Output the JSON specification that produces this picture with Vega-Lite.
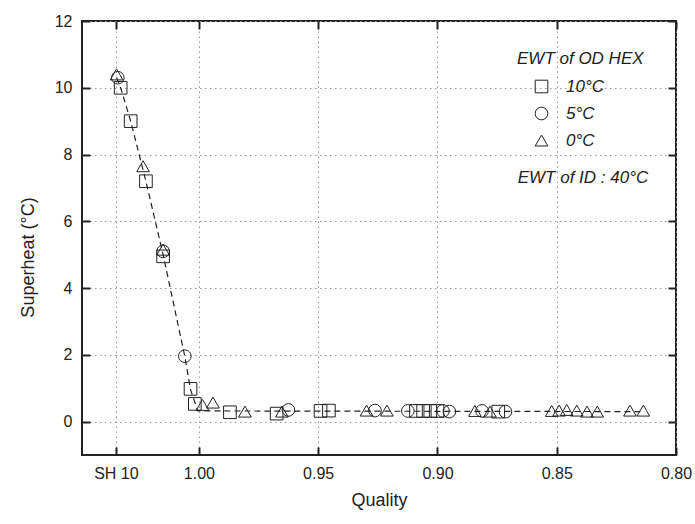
{
  "$schema": "https://vega.github.io/schema/vega-lite/v6.json",
  "width": 594,
  "height": 434,
  "autosize": {"type": "none"},
  "padding": {"left": 82, "top": 21, "right": 19, "bottom": 69},
  "background": "white",
  "config": {
    "view": {"stroke": "#222", "strokeWidth": 2},
    "font": "Liberation Sans",
    "axis": {
      "labelFont": "Liberation Sans", "labelFontSize": 16, "labelColor": "#222",
      "titleFont": "Liberation Sans", "titleFontSize": 18, "titleFontWeight": "normal", "titleColor": "#222",
      "domain": false, "tickColor": "#222", "tickWidth": 2, "tickSize": -8,
      "gridColor": "#999", "gridDash": [1.5, 3.5], "gridWidth": 1
    }
  },
  "datasets": {
    "fit": [
      {"x": 1.0345, "y": 10.3},
      {"x": 1.0328, "y": 10.0},
      {"x": 1.0286, "y": 9.0},
      {"x": 1.0222, "y": 7.2},
      {"x": 1.0150, "y": 5.0},
      {"x": 1.0059, "y": 1.95},
      {"x": 1.0035, "y": 0.96},
      {"x": 1.0005, "y": 0.32},
      {"x": 0.814, "y": 0.30}
    ],
    "pts": [
      {"ewt": "10°C", "x": 1.0328, "y": 10.0},
      {"ewt": "10°C", "x": 1.0286, "y": 9.0},
      {"ewt": "10°C", "x": 1.0222, "y": 7.2},
      {"ewt": "10°C", "x": 1.0150, "y": 4.95},
      {"ewt": "10°C", "x": 1.0035, "y": 0.98},
      {"ewt": "10°C", "x": 1.0017, "y": 0.53},
      {"ewt": "10°C", "x": 0.9870, "y": 0.28},
      {"ewt": "10°C", "x": 0.9674, "y": 0.24},
      {"ewt": "10°C", "x": 0.9490, "y": 0.32},
      {"ewt": "10°C", "x": 0.9455, "y": 0.33},
      {"ewt": "10°C", "x": 0.9090, "y": 0.32},
      {"ewt": "10°C", "x": 0.9060, "y": 0.32},
      {"ewt": "10°C", "x": 0.9030, "y": 0.32},
      {"ewt": "10°C", "x": 0.9000, "y": 0.32},
      {"ewt": "10°C", "x": 0.8745, "y": 0.30},
      {"ewt": "5°C", "x": 1.0340, "y": 10.3},
      {"ewt": "5°C", "x": 1.0150, "y": 5.1},
      {"ewt": "5°C", "x": 1.0059, "y": 1.96},
      {"ewt": "5°C", "x": 0.9625, "y": 0.35},
      {"ewt": "5°C", "x": 0.9262, "y": 0.33},
      {"ewt": "5°C", "x": 0.9124, "y": 0.32},
      {"ewt": "5°C", "x": 0.8977, "y": 0.32},
      {"ewt": "5°C", "x": 0.8950, "y": 0.30},
      {"ewt": "5°C", "x": 0.8813, "y": 0.32},
      {"ewt": "5°C", "x": 0.8715, "y": 0.30},
      {"ewt": "0°C", "x": 1.0345, "y": 10.4},
      {"ewt": "0°C", "x": 1.0234, "y": 7.65},
      {"ewt": "0°C", "x": 1.0150, "y": 5.15},
      {"ewt": "0°C", "x": 0.9985, "y": 0.50},
      {"ewt": "0°C", "x": 0.9941, "y": 0.57},
      {"ewt": "0°C", "x": 0.9807, "y": 0.30},
      {"ewt": "0°C", "x": 0.9652, "y": 0.30},
      {"ewt": "0°C", "x": 0.9297, "y": 0.33},
      {"ewt": "0°C", "x": 0.9212, "y": 0.33},
      {"ewt": "0°C", "x": 0.8843, "y": 0.32},
      {"ewt": "0°C", "x": 0.8780, "y": 0.30},
      {"ewt": "0°C", "x": 0.8521, "y": 0.32},
      {"ewt": "0°C", "x": 0.8490, "y": 0.33},
      {"ewt": "0°C", "x": 0.8458, "y": 0.35},
      {"ewt": "0°C", "x": 0.8416, "y": 0.33},
      {"ewt": "0°C", "x": 0.8373, "y": 0.30},
      {"ewt": "0°C", "x": 0.8330, "y": 0.30},
      {"ewt": "0°C", "x": 0.8193, "y": 0.33},
      {"ewt": "0°C", "x": 0.8137, "y": 0.33}
    ],
    "note": [
      {"label": "EWT of ID : 40°C", "x": 0.839, "y": 7.3}
    ]
  },
  "layer": [
    {
      "data": {"name": "fit"},
      "mark": {"type": "line", "color": "#222", "strokeDash": [6, 4], "strokeWidth": 1.2},
      "encoding": {
        "x": {
          "field": "x", "type": "quantitative",
          "scale": {"domain": [0.8, 1.049], "reverse": true, "nice": false, "zero": false},
          "axis": {
            "orient": "bottom", "title": "Quality", "titlePadding": 10,
            "values": [1.0348, 1.0, 0.95, 0.9, 0.85, 0.8],
            "labelExpr": "datum.value > 1.01 ? 'SH 10' : format(datum.value, '.2f')",
            "labelPadding": 18, "grid": true, "labelFlush": false
          }
        },
        "y": {
          "field": "y", "type": "quantitative",
          "scale": {"domain": [-1, 12], "nice": false, "zero": false},
          "axis": {
            "orient": "left", "title": "Superheat (°C)", "titlePadding": 17, "titleY": 236,
            "values": [0, 2, 4, 6, 8, 10, 12],
            "labelPadding": 18, "grid": true
          }
        }
      }
    },
    {
      "data": {"name": "pts"},
      "mark": {"type": "point", "filled": false, "stroke": "#222", "strokeWidth": 1, "size": 160, "opacity": 1},
      "encoding": {
        "x": {
          "field": "x", "type": "quantitative",
          "axis": {"orient": "top", "labels": false, "title": null, "grid": false, "values": [1.0348, 1.0, 0.95, 0.9, 0.85, 0.8]}
        },
        "y": {
          "field": "y", "type": "quantitative",
          "axis": {"orient": "right", "labels": false, "title": null, "grid": false, "values": [0, 2, 4, 6, 8, 10, 12]}
        },
        "shape": {
          "field": "ewt", "type": "nominal",
          "scale": {"domain": ["10°C", "5°C", "0°C"], "range": ["square", "circle", "triangle-up"]},
          "legend": {
            "title": "EWT of OD HEX", "orient": "none", "legendX": 435, "legendY": 30,
            "titleFont": "Liberation Sans", "titleFontStyle": "italic", "titleFontWeight": "normal", "titleFontSize": 17, "titleColor": "#222",
            "titleAnchor": "start", "titlePadding": 10,
            "labelFont": "Liberation Sans", "labelFontStyle": "italic", "labelFontSize": 17, "labelColor": "#222",
            "symbolStrokeColor": "#222", "symbolFillColor": "transparent", "symbolSize": 160, "symbolStrokeWidth": 1,
            "symbolOffset": 16, "labelOffset": 16, "rowPadding": 9
          }
        }
      }
    },
    {
      "data": {"name": "note"},
      "mark": {"type": "text", "font": "Liberation Sans", "fontStyle": "italic", "fontSize": 17, "color": "#222", "align": "center", "baseline": "middle"},
      "encoding": {
        "x": {"field": "x", "type": "quantitative", "axis": null},
        "y": {"field": "y", "type": "quantitative", "axis": null},
        "text": {"field": "label"}
      }
    }
  ]
}
